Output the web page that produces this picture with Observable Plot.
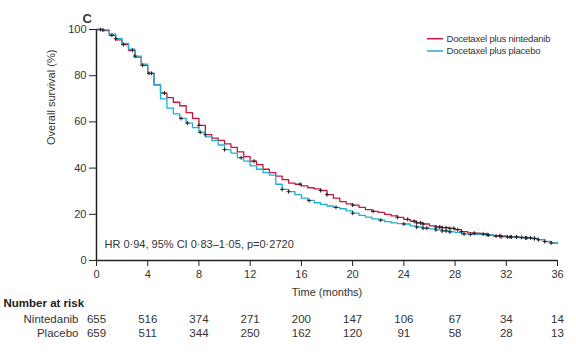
<!DOCTYPE html>
<html><head><meta charset="utf-8">
<script src="https://cdn.jsdelivr.net/npm/d3@7"></script>
<script src="https://cdn.jsdelivr.net/npm/@observablehq/plot@0.6"></script>
<style>
body{margin:0;background:#fff;}
#chart svg{font-family:"Liberation Sans",Arial,sans-serif;}
</style>
</head><body><div id="chart"></div>
<script>
// Kaplan-Meier estimates (months, % surviving)
const timesN = [0,0.5,1,1.5,2,2.5,3,3.5,4,4.5,5,5.5,6,6.5,7,7.5,8,8.5,9,9.5,10,10.5,11,11.5,12,12.5,13,13.5,14,14.5,15,15.5,16,16.5,17,17.5,18,18.5,19,19.5,20,20.5,21,21.5,22,22.5,23,23.5,24,24.5,25,25.5,26,26.5,27,27.5,28,28.5,29,29.5,30,30.5,31,31.5,32,33,33.5,34,34.5,35,35.5,36];
const survN  = [100,99.5,97.5,95.5,93.5,91,88,84.5,81,76,72.5,70.5,68.5,67,64,61.5,58.5,54.5,53,52,50.5,49,47,45,43,41.5,39.5,38,36.5,35,33.5,33,32.3,31.5,31,30.3,28.5,27,25.5,24.5,24,23,22,21.3,20.8,20,19.3,18.7,17.8,17,16.3,15.8,15,14.5,14.2,13.9,13.4,12.5,12,11.8,11.5,11,10.6,10.3,10.2,10,9.8,9.5,9,8.2,7.6,7.5];
const timesP = [0,0.5,1,1.5,2,2.5,3,3.5,4,4.5,5,5.5,6,6.5,7,7.5,8,8.5,9,9.5,10,10.5,11,11.5,12,12.5,13,13.5,14,14.5,15,15.5,16,16.5,17,17.5,18,18.5,19,19.5,20,20.5,21,21.5,22,22.5,23,23.5,24,24.5,25,25.5,26,26.5,27,27.5,28,28.5,29,30,31,32,33,34,34.5,35,35.5,36];
const survP  = [100,99.8,98,96,94,91.5,88.5,85,81,76,70,66,63.5,61.5,59.5,57.5,55.5,53.5,52,50,48,46.5,44.5,43,41,39.5,38,37,33,30.8,29.8,28.5,27,26,25,24.3,23.6,23,22.4,21.5,20.5,19.5,18.8,18,17.5,16.8,16.3,16,15.8,15,14.5,14,13.7,13.3,12.8,12.4,12.2,11.5,11.3,11.2,10.8,10.2,9.8,9.6,9,8.3,7.6,7.5];
// censoring times
const censorN = [0.3,1.2,2.1,2.8,3.6,4.3,5.3,8.0,8.5,12.3,15.9,17.5,18.0,20.0,21.6,23.5,24.3,24.8,25.0,25.3,25.5,26.5,26.8,27.0,27.3,27.6,27.9,28.2,28.5,29.5,30.2,30.6,31.2,31.6,32.1,32.4,32.8,33.2,33.6,33.9,34.2,34.5,35.0,35.5];
const censorP = [0.5,1.5,3.0,4.1,6.6,7.1,8.1,10.0,11.3,14.5,15.0,16.6,18.7,20.0,22.2,24.0,25.0,25.5,25.8,26.5,27.0,27.3,27.6,28.7,29.2,30.5,31.5,32.3,32.8,33.5,34.2];
// number at risk
const riskTimes = [0,4,8,12,16,20,24,28,32,36];
const riskN = [655,516,374,271,200,147,106,67,34,14];
const riskP = [659,511,344,250,162,120,91,58,28,13];
const armNames = ["Docetaxel plus nintedanib","Docetaxel plus placebo"];
const rowLabels = ["Nintedanib","Placebo"];
const armColors = ["#c8163f","#1eaed6"];
const xTicks = [0,4,8,12,16,20,24,28,32,36];
const yTicks = [0,20,40,60,80,100];
const hrText = "HR 0·94, 95% CI 0·83–1·05, p=0·2720";

const rows = [
  ...timesN.map((t,i)=>({t, s:survN[i], arm:armNames[0]})),
  ...timesP.map((t,i)=>({t, s:survP[i], arm:armNames[1]}))
];
function stepAt(times, surv, t){ let v = surv[0]; for (let i=0;i<times.length;i++){ if (times[i] <= t) v = surv[i]; } return v; }
const censorRows = [
  ...censorN.map(t=>({t, s:stepAt(timesN,survN,t)})),
  ...censorP.map(t=>({t, s:stepAt(timesP,survP,t)}))
];
const riskRows = [
  ...riskTimes.map((t,i)=>({t, n:riskN[i], row:0})),
  ...riskTimes.map((t,i)=>({t, n:riskP[i], row:1}))
];

const ink = "#333";
const plot = Plot.plot({
  width: 576, height: 355,
  marginTop: 29, marginBottom: 95, marginLeft: 96, marginRight: 19,
  style: {fontSize: "11px", color: ink, background: "#fff"},
  x: {domain: [0,36]},
  y: {domain: [0,100]},
  color: {domain: armNames, range: armColors},
  marks: [
    Plot.line(rows, {x:"t", y:"s", stroke:"arm", curve:"step-after", strokeWidth:1.3}),
    Plot.dot(censorRows, {x:"t", y:"s", symbol:"plus", r:1.4, stroke:"#222", strokeWidth:1}),
    Plot.ruleX([0], {stroke:"#222", strokeWidth:1.5}),
    Plot.ruleY([0], {stroke:"#222", strokeWidth:1.5}),
    Plot.axisY({ticks: yTicks, tickSize: 7, tickPadding: 3, label: null, stroke:"#222", fontSize: 11}),
    Plot.axisX({ticks: xTicks, tickSize: 6, tickPadding: 4, label: null, stroke:"#222", fontSize: 11}),
    Plot.text(["Time (months)"], {frameAnchor:"bottom", dy:35, fontSize:11, fill:ink}),
    Plot.text(["Overall survival (%)"], {frameAnchor:"left", dx:-45, rotate:-90, fontSize:11, fill:ink}),
    Plot.text(["C"], {frameAnchor:"top-left", dx:-14, dy:-16, fontSize:13, fontWeight:"bold", fill:ink}),
    Plot.text([hrText], {frameAnchor:"bottom-left", dx:8, dy:-13, textAnchor:"start", fontSize:11, fill:ink}),
    Plot.text(riskRows.filter(d=>d.row===0), {x:"t", text:"n", frameAnchor:"bottom", dy:62.7, fontSize:11.5, fill:ink}),
    Plot.text(riskRows.filter(d=>d.row===1), {x:"t", text:"n", frameAnchor:"bottom", dy:76.7, fontSize:11.5, fill:ink}),
    Plot.text([rowLabels[0]], {frameAnchor:"bottom-left", dx:-18, dy:62.7, textAnchor:"end", fontSize:11.5, fill:ink}),
    Plot.text([rowLabels[1]], {frameAnchor:"bottom-left", dx:-18, dy:76.7, textAnchor:"end", fontSize:11.5, fill:ink}),
    Plot.text(["Number at risk"], {frameAnchor:"bottom-left", dx:-93, dy:46.7, textAnchor:"start", fontSize:11.5, fontWeight:"bold", fill:"#222"})
  ]
});
document.getElementById("chart").appendChild(plot);

// legend (top right, inside the frame)
const svg = d3.select(plot);
const lg = svg.append("g").attr("font-size", 9.5).attr("fill", ink).attr("text-anchor", "start").attr("letter-spacing", "-0.2px");
armNames.forEach((name, i) => {
  const y = 38.7 + i*12.3;
  lg.append("line").attr("x1", 427).attr("x2", 443).attr("y1", y).attr("y2", y)
    .attr("stroke", armColors[i]).attr("stroke-width", 1.5);
  lg.append("text").attr("x", 446.5).attr("y", y).attr("dy", "0.35em").text(name);
});
</script>
</body></html>
